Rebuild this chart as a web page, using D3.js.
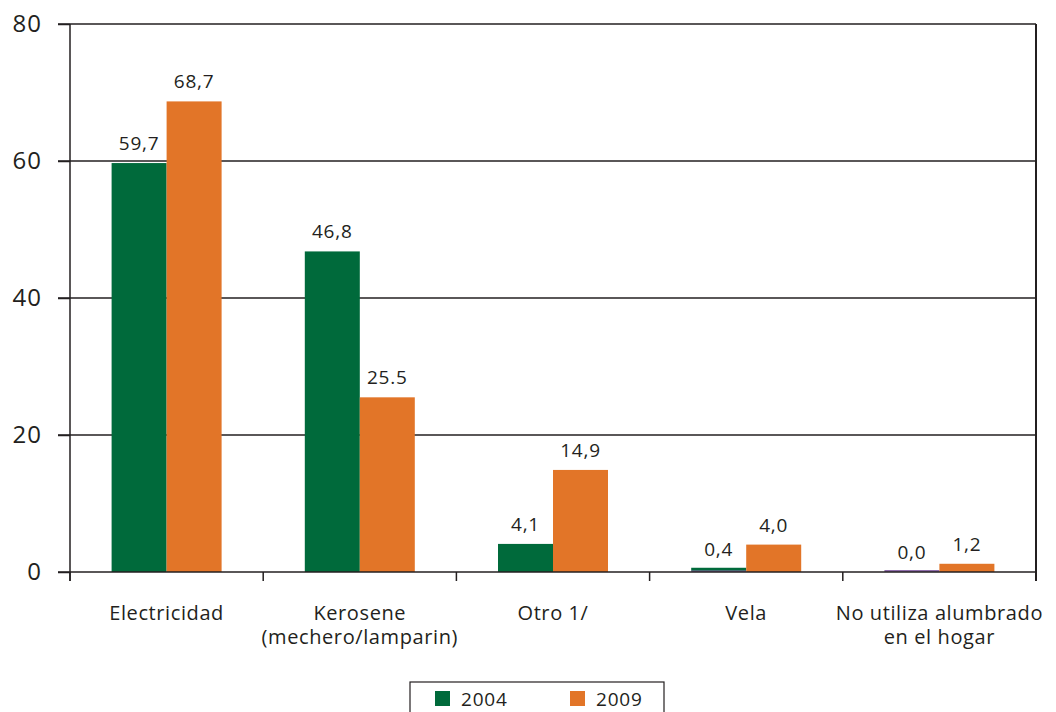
<!DOCTYPE html>
<html><head><meta charset="utf-8">
<script src="https://cdn.jsdelivr.net/npm/d3@7"></script>
<style>body{margin:0;background:#fff}svg{display:block}text{font-family:"Open Sans",sans-serif;fill:#231f20}</style>
</head><body>
<svg id="c" width="1056" height="712"></svg>
<script>
const categories = [["Electricidad"],["Kerosene","(mechero/lamparin)"],["Otro 1/"],["Vela"],["No utiliza alumbrado","en el hogar"]];
const categoryKeys = ["Electricidad","Kerosene","Otro","Vela","No utiliza"];
const series2004 = [59.7, 46.8, 4.1, 0.4, 0.0];
const series2009 = [68.7, 25.5, 14.9, 4.0, 1.2];
const labels2004 = ["59,7","46,8","4,1","0,4","0,0"];
const labels2009 = ["68,7","25.5","14,9","4,0","1,2"];
const seriesNames = ["2004","2009"];
const yTicks = [0,20,40,60,80];

const colors = {"2004":"#006a3b","2009":"#e27528"};
const svg = d3.select("#c");
const L=70,R=1036,T=24,B=572;
const x = d3.scaleBand().domain(categoryKeys).range([L,R]).paddingInner(0).paddingOuter(0);
const y = d3.scaleLinear().domain([0,80]).range([B,T]);
const barW = 55;
const ink="#231f20";

// gridlines
svg.append("g").selectAll("line").data(yTicks.filter(d=>d>0)).join("line")
  .attr("x1",58).attr("x2",R).attr("y1",d=>y(d)).attr("y2",d=>y(d))
  .attr("stroke",ink).attr("stroke-width",1.5);

// y axis
const ya = svg.append("g").attr("transform",`translate(${L},0)`)
  .call(d3.axisLeft(y).tickValues(yTicks).tickSize(12).tickPadding(16).tickFormat(d3.format("d")));
ya.select(".domain").remove();
ya.selectAll(".tick line").attr("stroke",ink).attr("stroke-width",1.5);
ya.selectAll(".tick text").style("font-size","24px").attr("fill",ink).style("font-family","'Open Sans',sans-serif").style("letter-spacing","1px");
svg.append("line").attr("x1",L).attr("x2",L).attr("y1",T).attr("y2",B+9).attr("stroke",ink).attr("stroke-width",1.5);
svg.append("line").attr("x1",R).attr("x2",R).attr("y1",T).attr("y2",B+9).attr("stroke",ink).attr("stroke-width",2);

// x ticks
const xt = categoryKeys.map(k=>x(k)).concat([R]);
svg.append("g").selectAll("line").data(xt).join("line")
  .attr("x1",d=>d).attr("x2",d=>d).attr("y1",B).attr("y2",B+9)
  .attr("stroke",ink).attr("stroke-width",1.5);

// bars
const data = categoryKeys.map((k,i)=>({k,i,v04:series2004[i],v09:series2009[i]}));
const g = svg.append("g");
data.forEach(d=>{
  const cx = x(d.k)+x.bandwidth()/2;
  if (d.v04 < 1) g.append("line").attr("x1",cx-barW).attr("x2",cx).attr("y1",B-1).attr("y2",B-1).attr("stroke","#6a3d8f").attr("stroke-width",1.5);
  g.append("rect").attr("x",cx-barW).attr("width",barW).attr("y",y(d.v04)-(d.v04>0&&d.v04<1?1.5:0)).attr("height",d.v04>0?Math.max(B-y(d.v04),2):0).attr("fill",colors["2004"]);
  g.append("rect").attr("x",cx).attr("width",barW).attr("y",y(d.v09)).attr("height",B-y(d.v09)).attr("fill",colors["2009"]);
  g.append("text").attr("x",cx-barW/2).attr("y",y(d.v04)-13).attr("text-anchor","middle").style("font-size","19px").style("letter-spacing","0.8px").text(labels2004[d.i]);
  g.append("text").attr("x",cx+barW/2).attr("y",y(d.v09)-13).attr("text-anchor","middle").style("font-size","19px").style("letter-spacing","0.8px").text(labels2009[d.i]);
});

// baseline
svg.append("line").attr("x1",58).attr("x2",R).attr("y1",B).attr("y2",B).attr("stroke",ink).attr("stroke-width",1.5);

// category labels
data.forEach(d=>{
  const cx = x(d.k)+x.bandwidth()/2;
  const t = svg.append("text").attr("x",cx).attr("y",620).attr("text-anchor","middle").style("font-size","20px").style("letter-spacing","0.6px");
  categories[d.i].forEach((ln,j)=>t.append("tspan").attr("x",cx).attr("dy",j?24:0).text(ln));
});

// legend
svg.append("rect").attr("x",410).attr("y",682).attr("width",254).attr("height",40).attr("fill","#fff").attr("stroke",ink).attr("stroke-width",1.2);
const lx=[435,570];
seriesNames.forEach((s,i)=>{
  svg.append("rect").attr("x",lx[i]).attr("y",691).attr("width",15).attr("height",15).attr("fill",colors[s]);
  svg.append("text").attr("x",lx[i]+26).attr("y",706).style("font-size","19px").style("letter-spacing","0.8px").text(s);
});
</script>
</body></html>
